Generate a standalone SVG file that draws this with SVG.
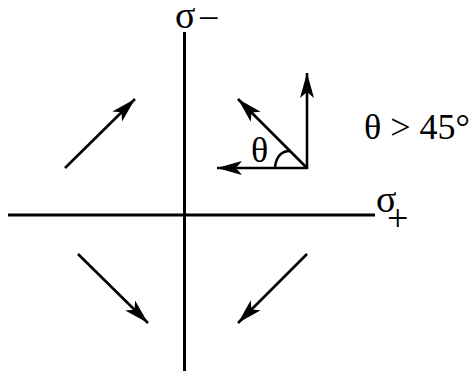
<svg xmlns="http://www.w3.org/2000/svg" width="471" height="371" viewBox="0 0 471 371">
<style>
.ax{stroke:#000;stroke-width:3;fill:none}
.ar{stroke:#000;stroke-width:2.6;fill:none;marker-end:url(#ah)}
.t{font-family:"Liberation Serif","Times New Roman",serif;fill:#000}
</style>
<defs>
<marker id="ah" markerUnits="userSpaceOnUse" orient="auto" refX="0" refY="0" markerWidth="30" markerHeight="20" viewBox="-28 -10 30 20" overflow="visible">
<path d="M0,0 L-25,-7 L-19,0 L-25,7 Z" fill="#000"/>
</marker>
</defs>
<rect width="471" height="371" fill="#fff"/>
<g id="axes">
<line class="ax" x1="184.5" y1="32" x2="184.5" y2="371"/>
<line class="ax" x1="8" y1="215" x2="375" y2="215"/>
</g>
<g id="connectors">
<line class="ar" x1="65" y1="168" x2="135" y2="99"/>
<line class="ar" x1="78" y1="254" x2="148" y2="323"/>
<line class="ar" x1="307" y1="254" x2="238" y2="323"/>
<line class="ar" x1="307" y1="169" x2="307" y2="73"/>
<line class="ar" x1="308" y1="168" x2="217" y2="168"/>
<line class="ar" x1="307" y1="168" x2="238" y2="99"/>
<path d="M275,167 Q277,151 290,151" class="ax" style="stroke-width:2.5"/>
</g>
<g id="label-sigma-minus">
<text class="t" x="175" y="28" font-size="38">σ<tspan x="198" dy="3">−</tspan></text>
</g>
<g id="label-sigma-plus">
<text class="t" x="376" y="212" font-size="38">σ<tspan x="387" dy="19">+</tspan></text>
</g>
<g id="label-theta">
<text class="t" x="251" y="162" font-size="36">θ</text>
</g>
<g id="label-condition">
<text class="t" x="364" y="139" font-size="36">θ &gt; 45°</text>
</g>
</svg>
